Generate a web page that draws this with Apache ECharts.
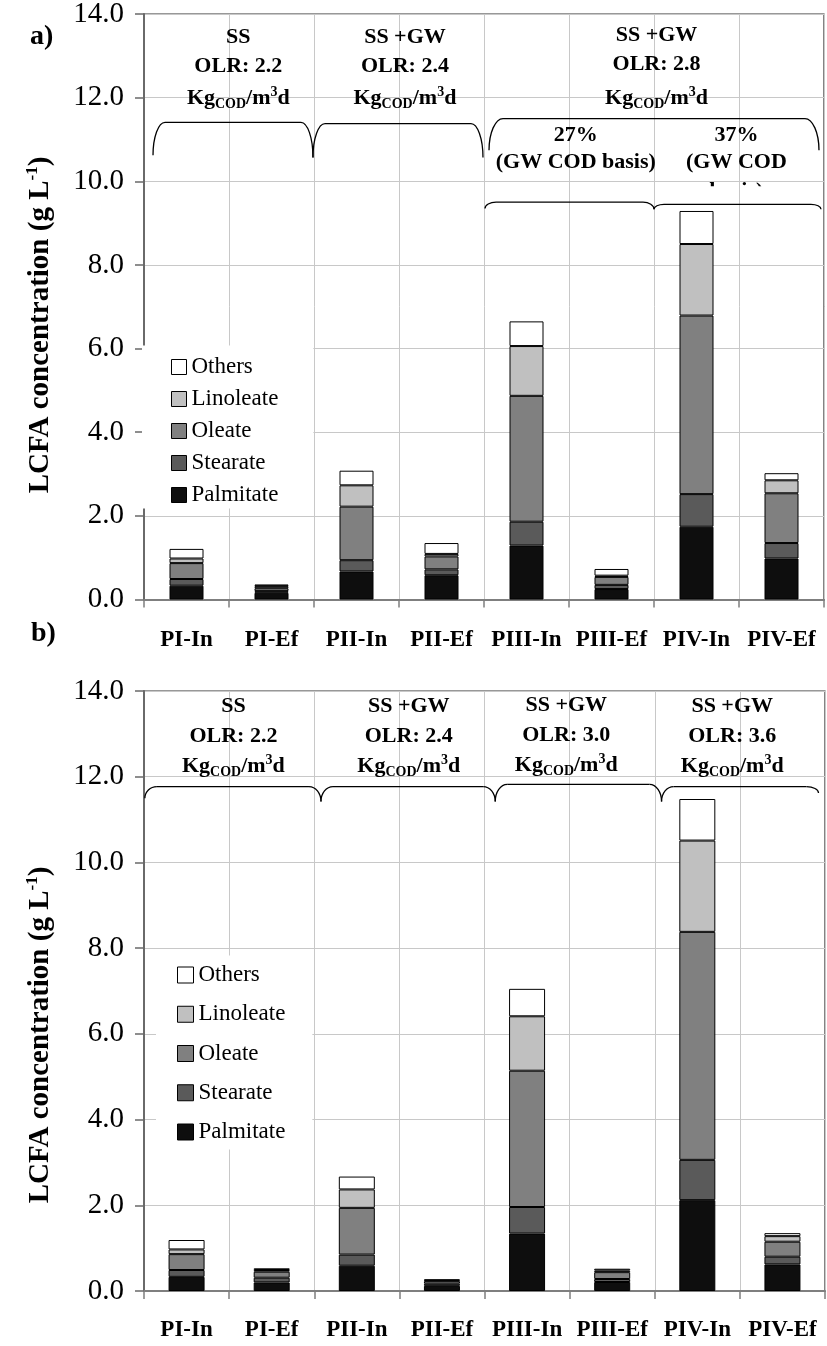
<!DOCTYPE html>
<html>
<head>
<meta charset="utf-8">
<script src="https://cdn.jsdelivr.net/npm/echarts@6/dist/echarts.min.js"></script>
<style>
  html, body { margin: 0; padding: 0; background: #fff; }
  #chart { width: 827px; height: 1346px; }
</style>
</head>
<body>
<div id="chart"></div>
<script>
// LCFA composition of influent (In) and effluent (Ef) per operating period
const categories = ['PI-In', 'PI-Ef', 'PII-In', 'PII-Ef', 'PIII-In', 'PIII-Ef', 'PIV-In', 'PIV-Ef'];
const seriesNames = ['Palmitate', 'Stearate', 'Oleate', 'Linoleate', 'Others'];
const legendOrder = ['Others', 'Linoleate', 'Oleate', 'Stearate', 'Palmitate'];

// panel a (g/L)
const palmitateA = [0.33, 0.16, 0.67, 0.58, 1.29, 0.25, 1.74, 0.98];
const stearateA  = [0.16, 0.04, 0.27, 0.14, 0.57, 0.10, 0.78, 0.37];
const oleateA    = [0.38, 0.07, 1.28, 0.31, 3.01, 0.19, 4.27, 1.19];
const linoleateA = [0.11, 0.05, 0.51, 0.06, 1.19, 0.03, 1.71, 0.31];
const othersA    = [0.23, 0.04, 0.35, 0.26, 0.59, 0.16, 0.79, 0.17];

// panel b (g/L)
const palmitateB = [0.33, 0.20, 0.59, 0.12, 1.34, 0.21, 2.12, 0.62];
const stearateB  = [0.16, 0.11, 0.26, 0.05, 0.62, 0.07, 0.94, 0.18];
const oleateB    = [0.37, 0.14, 1.09, 0.06, 3.18, 0.16, 5.32, 0.35];
const linoleateB = [0.11, 0.04, 0.43, 0.02, 1.27, 0.04, 2.13, 0.13];
const othersB    = [0.22, 0.04, 0.30, 0.02, 0.64, 0.04, 0.97, 0.07];

// value axis
const yMin = 0, yMax = 14, yStep = 2;

// period annotations: [text, panel, category position, value]
const KG = '{m|Kg}{s|COD}{m|/m}{p|3}{m|d}';
const notes = [
  ['SS', 0, 0.61, 13.44], ['OLR: 2.2', 0, 0.61, 12.74], [KG, 0, 0.61, 11.98],
  ['SS +GW', 0, 2.57, 13.44], ['OLR: 2.4', 0, 2.57, 12.74], [KG, 0, 2.57, 11.98],
  ['SS +GW', 0, 5.53, 13.49], ['OLR: 2.8', 0, 5.53, 12.79], [KG, 0, 5.53, 11.99],
  ['27%', 0, 4.58, 11.10], ['(GW COD basis)', 0, 4.58, 10.45],
  ['37%', 0, 6.47, 11.10], ['(GW COD', 0, 6.47, 10.45],
  ['SS', 1, 0.55, 13.65], ['OLR: 2.2', 1, 0.55, 12.95], [KG, 1, 0.55, 12.25],
  ['SS +GW', 1, 2.61, 13.65], ['OLR: 2.4', 1, 2.61, 12.95], [KG, 1, 2.61, 12.25],
  ['SS +GW', 1, 4.46, 13.67], ['OLR: 3.0', 1, 4.46, 12.97], [KG, 1, 4.46, 12.27],
  ['SS +GW', 1, 6.41, 13.65], ['OLR: 3.6', 1, 6.41, 12.95], [KG, 1, 6.41, 12.25]
];
// the third line under "37%" is hidden behind the brace box
const hiddenNote = ['basis)', 0, 6.47, 9.76];

// braces: [panel, from cat, to cat, top value, left tip value, right tip value, curl px]
const braces = [
  [0, -0.394, 1.488, 11.41, 10.62, 10.57, 12],
  [0, 1.488, 3.488, 11.38, 10.57, 10.57, 12],
  [0, 3.559, 7.441, 11.50, 10.74, 10.74, 14],
  [0, 3.512, 5.500, 9.50, 9.35, 9.33, 11],
  [0, 5.500, 7.465, 9.45, 9.33, 9.33, 10],
  [1, -0.490, 1.579, 11.77, 11.50, 11.42, 12],
  [1, 1.579, 3.626, 11.77, 11.42, 11.42, 12],
  [1, 3.626, 5.580, 11.82, 11.42, 11.42, 12],
  [1, 5.580, 7.424, 11.77, 11.42, 11.62, 12]
];

const SERIF = 'Liberation Serif';
const fills = {
  Palmitate: '#0e0e0e',
  Stearate: '#5a5a5a',
  Oleate: '#808080',
  Linoleate: '#c0c0c0',
  Others: '#ffffff'
};
const panelData = [
  { Palmitate: palmitateA, Stearate: stearateA, Oleate: oleateA, Linoleate: linoleateA, Others: othersA },
  { Palmitate: palmitateB, Stearate: stearateB, Oleate: oleateB, Linoleate: linoleateB, Others: othersB }
];
const barWidths = [34, 36];

const chart = echarts.init(document.getElementById('chart'), null, { renderer: 'canvas' });

function xAxisFor(g) {
  return {
    type: 'category', gridIndex: g, data: categories,
    boundaryGap: true,
    axisLine: { show: true, lineStyle: { color: '#7f7f7f', width: 2 } },
    axisTick: { show: true, alignWithLabel: false, interval: 0, length: 8, lineStyle: { color: '#7f7f7f', width: 1.5 } },
    axisLabel: { interval: 0, margin: g === 0 ? 29 : 28, color: '#000', fontFamily: SERIF, fontWeight: 'bold', fontSize: 23 },
    splitLine: { show: true, interval: 0, lineStyle: { color: '#c8c8c8', width: 1 } }
  };
}
function yAxisFor(g) {
  return {
    type: 'value', gridIndex: g, min: yMin, max: yMax, interval: yStep,
    axisLine: { show: true, lineStyle: { color: '#6a6a6a', width: 2 } },
    axisTick: { show: true, length: 9, lineStyle: { color: '#6a6a6a', width: 1.5 } },
    axisLabel: { margin: 20, color: '#000', fontFamily: SERIF, fontSize: 29, formatter: v => v.toFixed(1) },
    splitLine: { show: true, lineStyle: { color: '#c8c8c8', width: 1 } }
  };
}

const series = [];
[0, 1].forEach(g => {
  seriesNames.forEach(name => {
    series.push({
      type: 'bar', name, stack: 'panel' + g,
      xAxisIndex: g, yAxisIndex: g,
      data: panelData[g][name],
      barWidth: barWidths[g],
      itemStyle: { color: fills[name], borderColor: '#000', borderWidth: 1 },
      emphasis: { disabled: true },
      silent: true
    });
  });
});

function legendFor(g) {
  const base = {
    orient: 'vertical', icon: 'rect', selectedMode: false,
    data: legendOrder,
    backgroundColor: '#ffffff',
    textStyle: { fontFamily: SERIF, fontSize: 23, lineHeight: 23, color: '#000' },
    itemStyle: { borderColor: '#000', borderWidth: 1 }
  };
  if (g === 0) {
    return Object.assign(base, { left: 142, top: 345.5, itemWidth: 15, itemHeight: 15, itemGap: 9, padding: [10, 35, 2, 29] });
  }
  return Object.assign(base, { left: 156, top: 955.5, itemWidth: 16, itemHeight: 16, itemGap: 16.25, padding: [8, 27, 6, 21] });
}

chart.setOption({
  animation: false,
  backgroundColor: '#ffffff',
  grid: [
    { left: 144, top: 14, width: 680, height: 585.5, show: true, borderColor: '#333', borderWidth: 1.2, backgroundColor: 'transparent', outerBoundsMode: 'none' },
    { left: 144, top: 691, width: 681, height: 600, show: true, borderColor: '#333', borderWidth: 1.2, backgroundColor: 'transparent', outerBoundsMode: 'none' }
  ],
  xAxis: [xAxisFor(0), xAxisFor(1)],
  yAxis: [yAxisFor(0), yAxisFor(1)],
  legend: [legendFor(0), legendFor(1)],
  series
});

// position helper: fractional category position and value to pixels
function px(g, cat, val) {
  const a = chart.convertToPixel({ gridIndex: g }, [0, val]);
  const b = chart.convertToPixel({ gridIndex: g }, [1, val]);
  return [a[0] + (b[0] - a[0]) * cat, a[1]];
}

const boldFont = 'bold 22px "' + SERIF + '"';
const kgRich = {
  m: { fontSize: 22, fontWeight: 'bold', fontFamily: SERIF, lineHeight: 26, verticalAlign: 'middle', fill: '#000' },
  s: { fontSize: 14, fontWeight: 'bold', fontFamily: SERIF, lineHeight: 14, verticalAlign: 'bottom', fill: '#000' },
  p: { fontSize: 14, fontWeight: 'bold', fontFamily: SERIF, lineHeight: 14, verticalAlign: 'top', fill: '#000' }
};

const gfx = [];
notes.forEach(([txt, g, cat, val]) => {
  const [x, y] = px(g, cat, val);
  const style = { text: txt, x: 0, y: 0, align: 'center', verticalAlign: 'middle', fill: '#000', font: boldFont };
  if (txt === KG) style.rich = kgRich;
  gfx.push({ type: 'text', x, y, z: 10, silent: true, style });
});

// partially hidden line and the box edge that hides it
(function () {
  const [txt, g, cat, val] = hiddenNote;
  const [x, y] = px(g, cat, val);
  gfx.push({ type: 'text', x, y, z: -2, silent: true,
    style: { text: txt, x: 0, y: 0, align: 'center', verticalAlign: 'middle', fill: '#000', font: boldFont } });
  gfx.push({ type: 'rect', z: -1, silent: true,
    shape: { x: x - 40, y: y - 5, width: 80, height: 16 },
    style: { fill: '#ffffff' } });
})();

// each brace: two curled ends joined by a straight top
const braceStyle = { stroke: '#000', fill: null, lineWidth: 1.3 };
braces.forEach(([g, c0, c1, vTop, vL, vR, r]) => {
  const [xa, yTop] = px(g, c0, vTop);
  const [xb] = px(g, c1, vTop);
  const yL = px(g, c0, vL)[1];
  const yR = px(g, c1, vR)[1];
  const k = 0.552;
  gfx.push({ type: 'bezierCurve', z: 10, silent: true,
    shape: { x1: xa, y1: yL, cpx1: xa, cpy1: yL - k * (yL - yTop), cpx2: xa + r - k * r, cpy2: yTop, x2: xa + r, y2: yTop },
    style: braceStyle });
  gfx.push({ type: 'line', z: 10, silent: true,
    shape: { x1: xa + r, y1: yTop, x2: xb - r, y2: yTop },
    style: braceStyle });
  gfx.push({ type: 'bezierCurve', z: 10, silent: true,
    shape: { x1: xb - r, y1: yTop, cpx1: xb - r + k * r, cpy1: yTop, cpx2: xb, cpy2: yR - k * (yR - yTop), x2: xb, y2: yR },
    style: braceStyle });
});

// axis titles and panel letters
const yTitle = '{t|LCFA concentration (g L}{s|-1}{t|)}';
const yTitleRich = {
  t: { fontSize: 29, fontWeight: 'bold', fontFamily: SERIF, lineHeight: 34, verticalAlign: 'middle', fill: '#000' },
  s: { fontSize: 17, fontWeight: 'bold', fontFamily: SERIF, lineHeight: 17, verticalAlign: 'top', fill: '#000' }
};
[[41, 325], [41, 1035]].forEach(([x, y]) => {
  gfx.push({ type: 'text', x, y, rotation: Math.PI / 2, z: 10, silent: true,
    style: { text: yTitle, x: 0, y: 0, align: 'center', verticalAlign: 'middle', fill: '#000', font: 'bold 29px "' + SERIF + '"', rich: yTitleRich } });
});
[['a)', 30, 37], ['b)', 31, 634]].forEach(([t, x, y]) => {
  gfx.push({ type: 'text', x, y, z: 10, silent: true,
    style: { text: t, x: 0, y: 0, align: 'left', verticalAlign: 'middle', fill: '#000', font: 'bold 28px "' + SERIF + '"' } });
});

chart.setOption({ graphic: { elements: gfx } });
</script>
</body>
</html>
